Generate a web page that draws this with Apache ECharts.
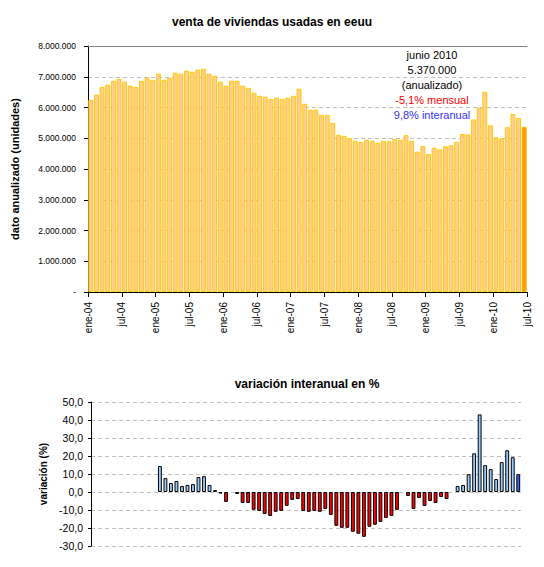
<!DOCTYPE html>
<html>
<head>
<meta charset="utf-8">
<script src="https://cdn.jsdelivr.net/npm/echarts/dist/echarts.min.js"></script>
<style>
html,body{margin:0;padding:0;background:#ffffff;}
#chart{width:544px;height:567px;}
</style>
</head>
<body>
<div id="chart"></div>
<script>
// ---- categories ----
const monthNames = ['ene','feb','mar','abr','may','jun','jul','ago','sep','oct','nov','dic'];
const yearCodes = ['04','05','06','07','08','09','10'];
const categories = [];
yearCodes.forEach(function (y) {
  monthNames.forEach(function (m) { if (categories.length < 78) categories.push(m + '-' + y); });
});

// tick labels on the top chart's date axis (every 6 months, at category boundaries)
const tickLabels = ['ene-04','jul-04','ene-05','jul-05','ene-06','jul-06','ene-07',
                    'jul-07','ene-08','jul-08','ene-09','jul-09','ene-10','jul-10'];

// ---- existing home sales, annualized (units), ene-04 .. jun-10 ----
const sales2004 = [6250000,6420000,6670000,6740000,6870000,6930000,6840000,6710000,6670000,6870000,6970000,6900000];
const sales2005 = [7100000,6900000,6970000,7130000,7100000,7200000,7160000,7230000,7260000,7100000,7030000,6840000];
const sales2006 = [6710000,6870000,6870000,6710000,6640000,6480000,6380000,6350000,6280000,6320000,6280000,6320000];
const sales2007 = [6380000,6610000,6120000,5930000,5930000,5760000,5760000,5500000,5110000,5080000,5010000,4920000];
const sales2008 = [4880000,4950000,4920000,4850000,4920000,4900000,4980000,4950000,5100000,4920000,4560000,4750000];
const sales2009 = [4490000,4690000,4640000,4740000,4770000,4880000,5140000,5120000,5610000,5990000,6510000,5420000];
const sales2010 = [5030000,5000000,5360000,5790000,5660000,5370000];
const sales = [].concat(sales2004, sales2005, sales2006, sales2007, sales2008, sales2009, sales2010);

// ---- year-on-year variation (%), ene-05 .. jun-10 ----
const yoy2005 = [14.4,7.7,5.0,6.1,3.3,3.9,4.4,8.3,8.8,3.9,1.1,-0.9];
const yoy2006 = [-5.5,0.0,-1.1,-6.1,-6.1,-9.9,-10.5,-12.2,-13.3,-11.0,-10.5,-7.7];
const yoy2007 = [-4.4,-3.9,-10.5,-11.0,-10.5,-11.0,-9.4,-12.7,-18.8,-19.9,-19.9,-22.1];
const yoy2008 = [-23.2,-24.9,-19.3,-18.2,-16.6,-14.4,-13.3,-9.9,0.0,-2.2,-9.4,-3.3];
const yoy2009 = [-7.7,-5.0,-6.1,-2.8,-3.9,0.0,3.3,3.9,9.9,21.5,43.1,14.9];
const yoy2010 = [12.7,7.2,16.6,23.2,19.3,9.9];
const yoyValues = [].concat(yoy2005, yoy2006, yoy2007, yoy2008, yoy2009, yoy2010);

// annotation lines
const noteLines = ['junio 2010', '5.370.000', '(anualizado)', '-5,1% mensual', '9,8% interanual'];
const noteColors = ['#000000', '#000000', '#000000', '#ff0000', '#3333ff'];

const FONT = '"Liberation Sans", Arial, sans-serif';

// ---- build series data ----
const salesData = sales.map(function (v, i) {
  if (i === sales.length - 1) {
    return { value: v, itemStyle: { color: '#ff9900', borderColor: '#ffb000' } };
  }
  return v;
});

const padding2004 = categories.length - yoyValues.length;
const yoyData = categories.map(function (c, i) {
  if (i < padding2004) return null;
  const v = yoyValues[i - padding2004];
  const last = (i === categories.length - 1);
  return {
    value: v,
    itemStyle: {
      color: last ? '#3366ff' : (v >= 0 ? '#99ccff' : '#ff0000'),
      borderColor: '#000000',
      borderWidth: v === 0 ? 0 : 1
    }
  };
});

function fmtThousands(v) {
  if (v === 0) return '-';
  return String(v).replace(/\B(?=(\d{3})+(?!\d))/g, '.');
}

const titles = [
  { text: 'venta de viviendas usadas en eeuu', left: 272, top: 21.5, padding: 0,
    textAlign: 'center', textVerticalAlign: 'middle',
    textStyle: { fontFamily: FONT, fontSize: 12, fontWeight: 'bold', color: '#000' } },
  { text: 'variación interanual en %', left: 307, top: 384, padding: 0,
    textAlign: 'center', textVerticalAlign: 'middle',
    textStyle: { fontFamily: FONT, fontSize: 12, fontWeight: 'bold', color: '#000' } }
];
noteLines.forEach(function (t, k) {
  titles.push({
    text: t, left: 432, top: 55 + 15 * k, padding: 0,
    textAlign: 'center', textVerticalAlign: 'middle',
    textStyle: { fontFamily: FONT, fontSize: 11, fontWeight: 'normal', color: noteColors[k] }
  });
});

const chart = echarts.init(document.getElementById('chart'), null, { renderer: 'svg' });

const option = {
  backgroundColor: '#ffffff',
  animation: false,
  title: titles,
  grid: [
    { left: 88, top: 46, width: 439, height: 246 },
    { left: 91, top: 402, width: 430, height: 144 }
  ],
  xAxis: [
    { // top: categories for bars
      type: 'category', gridIndex: 0, data: categories,
      boundaryGap: true,
      axisLine: { show: true, lineStyle: { color: '#000', width: 1 } },
      axisTick: { show: false }, axisLabel: { show: false }, splitLine: { show: false }
    },
    { // top: date labels at boundaries
      type: 'value', gridIndex: 0, min: 0, max: categories.length, interval: 6,
      position: 'bottom',
      axisLine: { show: false },
      axisTick: { show: true, length: 5, lineStyle: { color: '#000' } },
      axisLabel: {
        show: true, rotate: 90, margin: 10, showMinLabel: true, showMaxLabel: true,
        fontFamily: FONT, fontSize: 10, color: '#000',
        formatter: function (v) { return tickLabels[Math.round(v / 6)] || ''; }
      },
      splitLine: { show: false }
    },
    { // top border of upper plot
      type: 'value', gridIndex: 0, min: 0, max: categories.length, position: 'top',
      axisLine: { show: true, lineStyle: { color: '#808080', width: 1 } },
      axisTick: { show: false }, axisLabel: { show: false }, splitLine: { show: false }
    },
    { // bottom chart categories
      type: 'category', gridIndex: 1, data: categories, boundaryGap: true,
      axisLine: { show: false }, axisTick: { show: false }, axisLabel: { show: false },
      splitLine: { show: false }
    }
  ],
  yAxis: [
    {
      type: 'value', gridIndex: 0, min: 0, max: 8000000, interval: 1000000,
      name: 'dato anualizado (unidades)', nameLocation: 'middle', nameGap: 68, nameRotate: 90,
      nameTextStyle: { fontFamily: FONT, fontSize: 11, fontWeight: 'bold', color: '#000' },
      axisLine: { show: true, lineStyle: { color: '#000', width: 1 } },
      axisTick: { show: true, length: 4, lineStyle: { color: '#000' } },
      axisLabel: { fontFamily: FONT, fontSize: 8.5, color: '#000', margin: 12, formatter: fmtThousands },
      splitLine: { show: true, lineStyle: { color: '#c0c0c0', type: [4, 3], width: 1 } }
    },
    {
      type: 'value', gridIndex: 1, min: -30, max: 50, interval: 10,
      name: 'variación (%)', nameLocation: 'middle', nameGap: 39, nameRotate: 90,
      nameTextStyle: { fontFamily: FONT, fontSize: 10, fontWeight: 'bold', color: '#000' },
      axisLine: { show: true, lineStyle: { color: '#000', width: 1 } },
      axisTick: { show: true, length: 3, lineStyle: { color: '#000' } },
      axisLabel: { fontFamily: FONT, fontSize: 10.5, color: '#000', margin: 8,
        formatter: function (v) { return v.toFixed(1).replace('.', ','); } },
      splitLine: { show: true, lineStyle: { color: '#c0c0c0', type: [4, 3], width: 1 } }
    }
  ],
  series: [
    {
      type: 'bar', xAxisIndex: 0, yAxisIndex: 0, data: salesData,
      barCategoryGap: '12%',
      itemStyle: { color: '#ffcc99', borderColor: '#ffcc00', borderWidth: 1 },
      emphasis: { disabled: true }
    },
    {
      type: 'bar', xAxisIndex: 3, yAxisIndex: 1, data: yoyData,
      barCategoryGap: '30%',
      emphasis: { disabled: true }
    }
  ]
};
chart.setOption(option);
</script>
</body>
</html>
